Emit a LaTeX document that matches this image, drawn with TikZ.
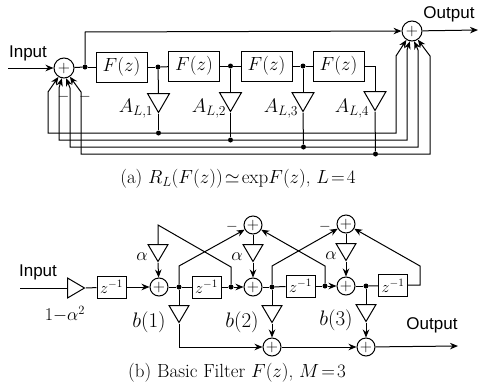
\documentclass[tikz,border=0pt]{standalone}
\usepackage{fix-cm}
\usepackage{fontspec}
\newfontfamily\labelfont{Liberation Sans}
\usetikzlibrary{arrows.meta,shapes.geometric}
\tikzset{
  sumnode/.style={circle,draw,line width=1pt,inner sep=0pt,minimum size=20pt,font=\fontsize{16}{16}\selectfont},
  sumsmall/.style={sumnode,minimum size=18pt},
  filterbox/.style={rectangle,draw,line width=1pt,inner sep=0pt,minimum width=51pt,minimum height=30pt,font=\fontsize{19}{19}\selectfont},
  delaybox/.style={rectangle,draw,line width=1pt,inner sep=0pt,minimum width=29pt,minimum height=22pt,font=\fontsize{16}{16}\selectfont},
  gaintri/.style={isosceles triangle,isosceles triangle stretches,draw,line width=1pt,inner sep=0pt,shape border rotate=270,minimum width=22pt,minimum height=19pt},
  gainright/.style={gaintri,shape border rotate=0,minimum width=20pt,minimum height=17pt},
  gainsmall/.style={gaintri,minimum width=20pt,minimum height=17pt},
  dot/.style={circle,fill=black,inner sep=0pt,minimum size=5pt},
  signame/.style={font=\fontsize{17}{17}\selectfont\labelfont},
  gainname/.style={font=\fontsize{19.5}{20}\selectfont},
  alphaname/.style={font=\fontsize{18}{18}\selectfont},
  bname/.style={font=\fontsize{21}{21}\selectfont},
  capname/.style={font=\fontsize{19}{22}\selectfont},
  minusname/.style={font=\fontsize{15}{15}\selectfont},
  wire/.style={line width=1pt},
  arrowwire/.style={wire,-{Stealth[length=8pt,width=6.5pt]}}
}
\begin{document}
\begin{tikzpicture}[x=1pt,y=-1pt]
  \useasboundingbox (0,0) rectangle (478,388);

  \node[sumnode] (sumin) at (64,68) {$+$};
  \node[sumnode] (sumout) at (412,31) {$+$};
  \node[dot] (tap0) at (85,67) {};
  \node[filterbox] (f1) at (121.5,67) {$F(z)$};
  \node[dot] (tap1) at (158,67) {};
  \node[filterbox] (f2) at (194,66) {$F(z)$};
  \node[dot] (tap2) at (230.5,66) {};
  \node[filterbox] (f3) at (266.5,66) {$F(z)$};
  \node[dot] (tap3) at (303,66) {};
  \node[filterbox] (f4) at (338.5,66) {$F(z)$};
  \node[gaintri,anchor=lower side] (a1) at (158.5,93) {};
  \node[gaintri,anchor=lower side] (a2) at (230.5,92) {};
  \node[gaintri,anchor=lower side] (a3) at (303,92) {};
  \node[gaintri,anchor=lower side] (a4) at (375,91) {};
  \node[dot] (bus1) at (158.5,133) {};
  \node[dot] (bus2) at (230.5,140) {};
  \node[dot] (bus3) at (303.5,147) {};
  \node[dot] (bus4) at (375.5,154) {};
  \node[gainname] (la1) at (136,109) {$A_{L,1}$};
  \node[gainname] (la2) at (209,109) {$A_{L,2}$};
  \node[gainname] (la3) at (281,109) {$A_{L,3}$};
  \node[gainname] (la4) at (352,109) {$A_{L,4}$};
  \node[signame] (inname1) at (28,53) {Input};
  \node[signame] (outname1) at (449,14) {Output};
  \node[minusname] (minus1) at (63.5,97) {$-$};
  \node[minusname] (minus2) at (85,97) {$-$};
  \node[capname] (capa) at (238,179) {(a) $R_L(F(z))\!\simeq\!\exp\!F(z)$, $L\!=\!4$};

  \coordinate (in1) at (8,68);
  \coordinate (out1) at (478,30);
  \coordinate (top0) at (85,32);
  \coordinate (end4) at (375,66);
  \coordinate (lb1) at (48,92);
  \coordinate (lb2) at (59,88);
  \coordinate (lb3) at (70,88);
  \coordinate (lb4) at (81,92);
  \coordinate (rb1) at (396,56);
  \coordinate (rb2) at (407,50);
  \coordinate (rb3) at (418,50);
  \coordinate (rb4) at (430,56);

  \begin{scope}[wire]
    \draw (sumin) -- (tap0);
    \draw (tap0) -- (f1);
    \draw (f1) -- (tap1);
    \draw (tap1) -- (f2);
    \draw (f2) -- (tap2);
    \draw (tap2) -- (f3);
    \draw (f3) -- (tap3);
    \draw (tap3) -- (f4);
    \draw (f4.east |- end4) -- (end4) -- (a4.lower side);
    \draw (tap1) -- (a1.lower side);
    \draw (tap2) -- (a2.lower side);
    \draw (tap3) -- (a3.lower side);
    \draw (a1.apex) -- (bus1);
    \draw (a2.apex) -- (bus2);
    \draw (a3.apex) -- (bus3);
    \draw (a4.apex) -- (bus4);
  \end{scope}
  \begin{scope}[arrowwire]
    \draw (in1) -- (sumin);
    \draw (sumout) -- (out1);
    \draw (tap0) -- (top0) -- (sumout);
    \draw (bus1) -| (lb1) -- (sumin.238);
    \draw (bus2) -| (lb2) -- (sumin.258);
    \draw (bus3) -| (lb3) -- (sumin.282);
    \draw (bus4) -| (lb4) -- (sumin.304);
    \draw (bus1) -| (rb1) -- (sumout.238);
    \draw (bus2) -| (rb2) -- (sumout.258);
    \draw (bus3) -| (rb3) -- (sumout.282);
    \draw (bus4) -| (rb4) -- (sumout.304);
  \end{scope}

  \node[gainright,anchor=lower side] (gain0) at (67,288) {};
  \node[delaybox] (d0) at (111.5,287) {$z^{-1}$};
  \node[sumsmall] (s1) at (159,287) {$+$};
  \node[dot] (n1) at (179,287) {};
  \node[delaybox] (d1) at (206.5,287) {$z^{-1}$};
  \node[dot] (e1) at (231,287) {};
  \node[sumsmall] (s2) at (253,287) {$+$};
  \node[dot] (n2) at (272,287) {};
  \node[delaybox] (d2) at (300.5,286) {$z^{-1}$};
  \node[dot] (e2) at (325,286) {};
  \node[sumsmall] (s3) at (346,286) {$+$};
  \node[dot] (n3) at (366,286) {};
  \node[delaybox] (d3) at (393,285.5) {$z^{-1}$};
  \node[sumsmall] (t2) at (253,225) {$+$};
  \node[sumsmall] (t3) at (346,224) {$+$};
  \node[sumsmall] (o2) at (272,347) {$+$};
  \node[sumsmall] (o3) at (366,347) {$+$};
  \node[gainsmall,anchor=lower side] (g1) at (158,244) {};
  \node[gainsmall,anchor=lower side] (g2) at (253,244) {};
  \node[gainsmall,anchor=lower side] (g3) at (346,243) {};
  \node[gainsmall,anchor=lower side] (h1) at (179,305) {};
  \node[gainsmall,anchor=lower side] (h2) at (272,305) {};
  \node[gainsmall,anchor=lower side] (h3) at (366,304) {};
  \node[signame] (inname2) at (38,272) {Input};
  \node[signame] (outname2) at (432,325) {Output};
  \node[alphaname] (lgain0) at (65,314) {$1{-}\alpha^2$};
  \node[alphaname] (lg1) at (142,257) {$\alpha$};
  \node[alphaname] (lg2) at (237,257) {$\alpha$};
  \node[alphaname] (lg3) at (331,256) {$\alpha$};
  \node[bname] (lh1) at (149,322) {$b(1)$};
  \node[bname] (lh2) at (242,322) {$b(2)$};
  \node[bname] (lh3) at (336,320) {$b(3)$};
  \node[minusname] (minus3) at (232,227) {$-$};
  \node[minusname] (minus4) at (325,227) {$-$};
  \node[capname] (capb) at (237,373) {(b) Basic Filter $F(z)$, $M\!=\!3$};

  \coordinate (in2) at (20,288);
  \coordinate (out2) at (458,346);
  \coordinate (g1top) at (158,225);
  \coordinate (e1up) at (231,267);
  \coordinate (e2up) at (325,266);
  \coordinate (n1up) at (179,266);
  \coordinate (n2up) at (272,266);
  \coordinate (d3end) at (420,285);
  \coordinate (d3up) at (420,266);
  \coordinate (h1low) at (179,347);

  \begin{scope}[wire]
    \draw (in2) -- (gain0.lower side);
    \draw (gain0.apex) -- (d0);
    \draw (s1) -- (n1);
    \draw (n1) -- (d1);
    \draw (d1) -- (e1);
    \draw (s2) -- (n2);
    \draw (n2) -- (d2);
    \draw (d2) -- (e2);
    \draw (s3) -- (n3);
    \draw (n3) -- (d3);
    \draw (n1) -- (h1.lower side);
    \draw (n2) -- (h2.lower side);
    \draw (n3) -- (h3.lower side);
    \draw (t2) -- (g2.lower side);
    \draw (t3) -- (g3.lower side);
    \draw (e1) -- (e1up) -- (g1top) -- (g1.lower side);
  \end{scope}
  \begin{scope}[arrowwire]
    \draw (d0) -- (s1);
    \draw (e1) -- (s2);
    \draw (e2) -- (s3);
    \draw (g1.apex) -- (s1);
    \draw (g2.apex) -- (s2);
    \draw (g3.apex) -- (s3);
    \draw (h2.apex) -- (o2);
    \draw (h3.apex) -- (o3);
    \draw (h1.apex) -- (h1low) -- (o2);
    \draw (o2) -- (o3);
    \draw (o3) -- (out2);
    \draw (n1) -- (n1up) -- (t2);
    \draw (n2) -- (n2up) -- (t3);
    \draw (e2) -- (e2up) -- (t2);
    \draw (d3.east |- d3end) -- (d3end) -- (d3up) -- (t3);
  \end{scope}
\end{tikzpicture}
\end{document}
